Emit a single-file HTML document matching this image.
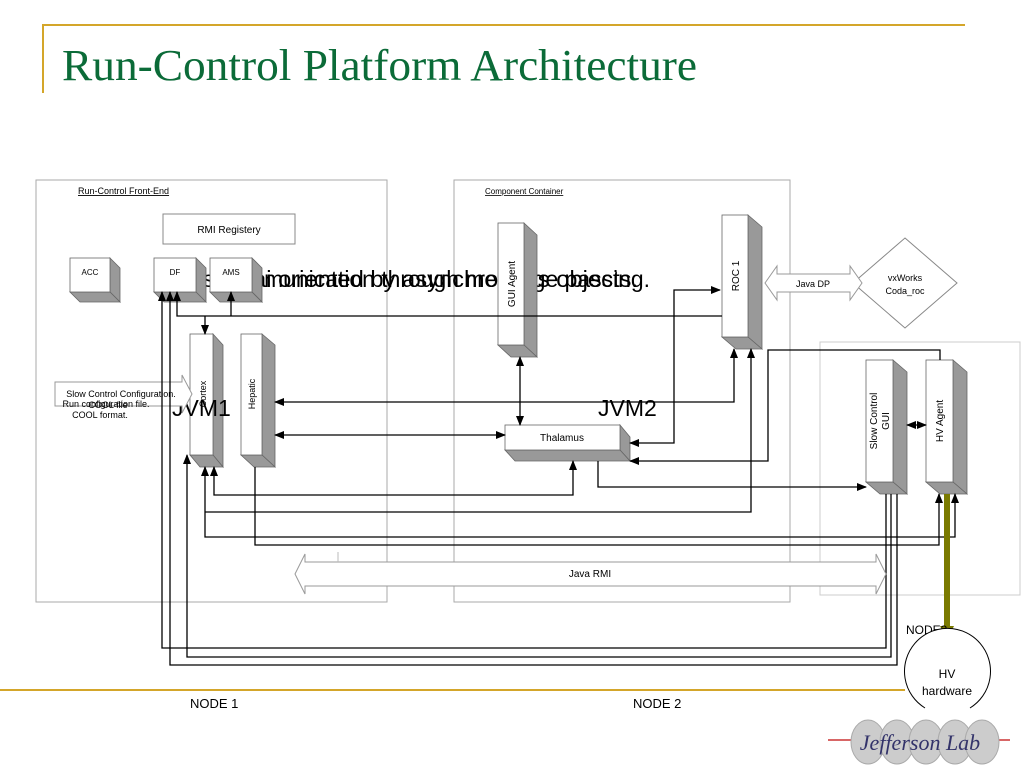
<!DOCTYPE html>
<html><head><meta charset="utf-8"><style>
html,body{margin:0;padding:0;background:#fff;}
svg{display:block;font-family:"Liberation Sans",sans-serif;}
</style></head><body>
<svg width="1024" height="768" viewBox="0 0 1024 768" xmlns="http://www.w3.org/2000/svg">
<defs>
<marker id="a" markerWidth="10" markerHeight="10" refX="9" refY="5" orient="auto-start-reverse" markerUnits="userSpaceOnUse"><path d="M0,1 L10,5 L0,9 Z" fill="#000"/></marker>
</defs>
<line x1="42" y1="25" x2="965" y2="25" stroke="#d4a62a" stroke-width="2"/>
<line x1="43" y1="25" x2="43" y2="93" stroke="#d4a62a" stroke-width="2"/>
<text x="62" y="80" font-family="Liberation Serif,serif" font-size="44" fill="#0b6b38" textLength="635" lengthAdjust="spacingAndGlyphs">Run-Control Platform Architecture</text>
<line x1="0" y1="690" x2="905" y2="690" stroke="#d4a62a" stroke-width="2"/>

<rect x="36" y="180" width="351" height="422" fill="none" stroke="#aaa"/>
<rect x="454" y="180" width="336" height="422" fill="none" stroke="#aaa"/>
<rect x="820" y="342" width="200" height="253" fill="none" stroke="#ccc"/>
<text x="78" y="194" font-size="9" text-decoration="underline">Run-Control Front-End</text>
<text x="485" y="194" font-size="8" text-decoration="underline">Component Container</text>

<!-- overlapping big text (behind boxes) -->
<g font-size="23" fill="#000">
<text x="203" y="287" textLength="447" lengthAdjust="spacingAndGlyphs">s communication through message passing.</text>
<text x="228" y="287" textLength="410" lengthAdjust="spacingAndGlyphs">ecai oriented by asynchronous objects.</text>
</g>

<rect x="163" y="214" width="132" height="30" fill="#fff" stroke="#888"/>
<text x="229" y="233" font-size="10" text-anchor="middle">RMI Registery</text>

<g stroke="#666" stroke-width="0.8">
<polygon points="110,258 120,268 120,302 110,292" fill="#999"/>
<polygon points="70,292 110,292 120,302 80,302" fill="#999"/>
<rect x="70" y="258" width="40" height="34" fill="#fff"/>
<polygon points="196,258 206,268 206,302 196,292" fill="#999"/>
<polygon points="154,292 196,292 206,302 164,302" fill="#999"/>
<rect x="154" y="258" width="42" height="34" fill="#fff"/>
<polygon points="252,258 262,268 262,302 252,292" fill="#999"/>
<polygon points="210,292 252,292 262,302 220,302" fill="#999"/>
<rect x="210" y="258" width="42" height="34" fill="#fff"/>
<polygon points="213,334 223,345 223,467 213,455" fill="#999"/>
<polygon points="190,455 213,455 223,467 200,467" fill="#999"/>
<rect x="190" y="334" width="23" height="121" fill="#fff"/>
<polygon points="262,334 275,345 275,467 262,455" fill="#999"/>
<polygon points="241,455 262,455 275,467 254,467" fill="#999"/>
<rect x="241" y="334" width="21" height="121" fill="#fff"/>
<polygon points="524,223 537,235 537,357 524,345" fill="#999"/>
<polygon points="498,345 524,345 537,357 511,357" fill="#999"/>
<rect x="498" y="223" width="26" height="122" fill="#fff"/>
<polygon points="748,215 762,227 762,349 748,337" fill="#999"/>
<polygon points="722,337 748,337 762,349 736,349" fill="#999"/>
<rect x="722" y="215" width="26" height="122" fill="#fff"/>
<polygon points="620,425 630,437 630,461 620,450" fill="#999"/>
<polygon points="505,450 620,450 630,461 515,461" fill="#999"/>
<rect x="505" y="425" width="115" height="25" fill="#fff"/>
<polygon points="893,360 907,372 907,494 893,482" fill="#999"/>
<polygon points="866,482 893,482 907,494 880,494" fill="#999"/>
<rect x="866" y="360" width="27" height="122" fill="#fff"/>
<polygon points="953,360 967,372 967,494 953,482" fill="#999"/>
<polygon points="926,482 953,482 967,494 940,494" fill="#999"/>
<rect x="926" y="360" width="27" height="122" fill="#fff"/>
</g>
<text x="90" y="275" font-size="8" text-anchor="middle">ACC</text>
<text x="175" y="275" font-size="8" text-anchor="middle">DF</text>
<text x="231" y="275" font-size="8" text-anchor="middle">AMS</text>
<text transform="translate(206,394) rotate(-90)" font-size="9" text-anchor="middle">Cortex</text>
<text transform="translate(255,394) rotate(-90)" font-size="9" text-anchor="middle">Hepatic</text>
<text transform="translate(515,284) rotate(-90)" font-size="10" text-anchor="middle">GUI Agent</text>
<text transform="translate(739,276) rotate(-90)" font-size="10" text-anchor="middle">ROC 1</text>
<text x="562" y="441" font-size="10" text-anchor="middle">Thalamus</text>
<text transform="translate(877,421) rotate(-90)" font-size="10" text-anchor="middle">Slow Control</text>
<text transform="translate(889,421) rotate(-90)" font-size="10" text-anchor="middle">GUI</text>
<text transform="translate(943,421) rotate(-90)" font-size="10" text-anchor="middle">HV Agent</text>

<text x="172" y="416" font-size="23">JVM1</text>
<text x="598" y="416" font-size="23">JVM2</text>

<polygon points="905,238 957,283 905,328 853,283" fill="#fff" stroke="#888"/>
<text x="905" y="281" font-size="9" text-anchor="middle">vxWorks</text>
<text x="905" y="294" font-size="9" text-anchor="middle">Coda_roc</text>
<polygon points="765,283 777,266 777,274 850,274 850,266 862,283 850,300 850,292 777,292 777,300" fill="#fff" stroke="#999"/>
<text x="813" y="287" font-size="9" text-anchor="middle">Java DP</text>
<polygon points="55,382 182,382 182,375 192,394 182,413 182,406 55,406" fill="#fff" stroke="#999"/>
<g font-size="9" text-anchor="middle">
<text x="121" y="397">Slow Control Configuration.</text>
<text x="106" y="407">Run configuration file.</text>
<text x="108" y="408">COOL file</text>
<text x="100" y="418">COOL format.</text>
</g>

<g fill="none" stroke="#000" stroke-width="1.3">
<polyline points="177,292 177,316 722,316" marker-start="url(#a)"/>
<line x1="231" y1="316" x2="231" y2="292" marker-end="url(#a)"/>
<line x1="205" y1="316" x2="205" y2="334" marker-end="url(#a)"/>
<polyline points="275,402 734,402 734,349" marker-start="url(#a)" marker-end="url(#a)"/>
<line x1="275" y1="435" x2="505" y2="435" marker-start="url(#a)" marker-end="url(#a)"/>
<line x1="520" y1="357" x2="520" y2="425" marker-start="url(#a)" marker-end="url(#a)"/>
<polyline points="630,443 674,443 674,290 720,290" marker-start="url(#a)" marker-end="url(#a)"/>
<polyline points="940,360 940,350 768,350 768,461 630,461" marker-end="url(#a)"/>
<polyline points="598,461 598,487 866,487" marker-end="url(#a)"/>
<polyline points="573,461 573,495 214,495 214,467" marker-start="url(#a)" marker-end="url(#a)"/>
<polyline points="751,349 751,512 205,512" marker-start="url(#a)"/>
<polyline points="955,494 955,537 205,537 205,467" marker-start="url(#a)" marker-end="url(#a)"/>
<polyline points="255,467 255,545 939,545 939,494" marker-end="url(#a)"/>
<polyline points="187,455 187,657 891,657 891,494" marker-start="url(#a)"/>
<polyline points="162,292 162,648 886,648 886,494" marker-start="url(#a)"/>
<polyline points="170,292 170,665 897,665 897,494" marker-start="url(#a)"/>
<line x1="907" y1="425" x2="926" y2="425" marker-start="url(#a)" marker-end="url(#a)"/>
</g>

<polygon points="295,574 305,554 305,562 876,562 876,554 886,574 876,594 876,586 305,586 305,594" fill="#fff" stroke="#999"/>
<polyline points="338,552 338,562 M338,586 338,594" stroke="#bbb" fill="none"/>
<text x="590" y="577" font-size="10" text-anchor="middle">Java RMI</text>

<rect x="944" y="494" width="6" height="134" fill="#7a7a00"/>
<polygon points="940,626 954,626 947,640" fill="#7a7a00"/>
<text x="906" y="634" font-size="12">NODE3</text>
<path d="M925,708 A43,43 0 1 1 970,708" fill="#fff" stroke="#000"/>
<text x="947" y="678" font-size="12" text-anchor="middle">HV</text>
<text x="947" y="695" font-size="12" text-anchor="middle">hardware</text>

<text x="190" y="708" font-size="13">NODE 1</text>
<text x="633" y="708" font-size="13">NODE 2</text>

<g>
<line x1="828" y1="740" x2="1010" y2="740" stroke="#c33" stroke-width="1.5"/>
<ellipse cx="868" cy="742" rx="17" ry="22" fill="#ccc" stroke="#aaa"/>
<ellipse cx="897" cy="742" rx="17" ry="22" fill="#ccc" stroke="#aaa"/>
<ellipse cx="926" cy="742" rx="17" ry="22" fill="#ccc" stroke="#aaa"/>
<ellipse cx="955" cy="742" rx="17" ry="22" fill="#ccc" stroke="#aaa"/>
<ellipse cx="982" cy="742" rx="17" ry="22" fill="#ccc" stroke="#aaa"/>
<text x="920" y="750" font-family="Liberation Serif,serif" font-style="italic" font-size="22" fill="#33336a" text-anchor="middle">Jefferson Lab</text>
</g>
</svg>
</body></html>
